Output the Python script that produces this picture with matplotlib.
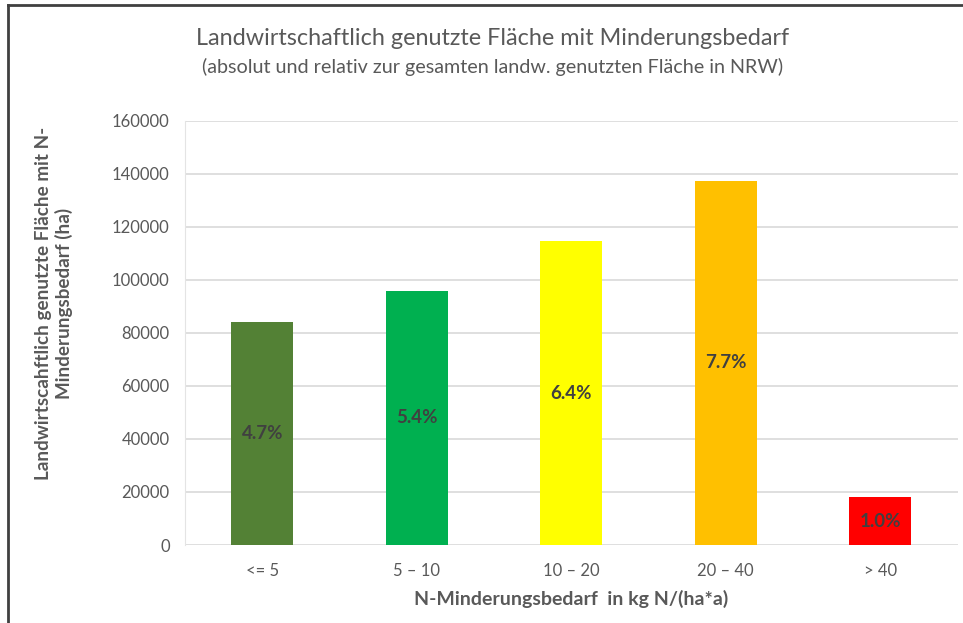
import matplotlib
matplotlib.use("Agg")
import matplotlib.pyplot as plt
from matplotlib.lines import Line2D

categories = ["<= 5", "5 \u2013 10", "10 \u2013 20", "20 \u2013 40", "> 40"]
area_ha = [84000, 96000, 114700, 137400, 18100]
share_labels = ["4.7%", "5.4%", "6.4%", "7.7%", "1.0%"]
bar_colors = ["#538135", "#00B050", "#FFFF00", "#FFC000", "#FF0000"]
y_ticks = [0, 20000, 40000, 60000, 80000, 100000, 120000, 140000, 160000]

plt.rcParams["font.family"] = ["Lato", "DejaVu Sans"]

fig = plt.figure(figsize=(9.63, 6.23), dpi=100)
ax = fig.add_axes([0.1921, 0.1252, 0.8022, 0.6806])

x = list(range(len(categories)))
bars = ax.bar(x, area_ha, width=0.4, color=bar_colors, zorder=3)

for xi, v, lab in zip(x, area_ha, share_labels):
    ax.text(xi, v / 2, lab, ha="center", va="center", fontsize=13.5,
            fontweight="bold", color="#404040", zorder=4)

ax.set_xlim(-0.5, len(categories) - 0.5)
ax.set_ylim(0, 160000)
ax.set_yticks(y_ticks)
ax.set_yticklabels([str(t) for t in y_ticks])
ax.set_xticks(x)
ax.set_xticklabels(categories)
ax.tick_params(axis="both", length=0, labelsize=12, colors="#595959")
ax.tick_params(axis="y", pad=11)
ax.tick_params(axis="x", pad=13)

ax.grid(axis="y", color="#D9D9D9", linewidth=1.2, zorder=0)
for s in ["top", "right", "bottom"]:
    ax.spines[s].set_visible(False)
ax.spines["left"].set_color("#E4E4E4")
ax.spines["left"].set_linewidth(0.8)

ax.set_xlabel("N-Minderungsbedarf  in kg N/(ha*a)", fontsize=14,
              fontweight="bold", color="#595959", labelpad=8)
fig.text(0.056, 0.513, "Landwirtscahftlich genutzte Fl\u00e4che mit N-\nMinderungsbedarf (ha)",
         rotation=90, ha="center", va="center", fontsize=13.6, fontweight="bold",
         color="#595959", linespacing=1.2)

fig.text(0.512, 0.939, "Landwirtschaftlich genutzte Fl\u00e4che mit Minderungsbedarf",
         ha="center", va="center", fontsize=16.8, color="#595959")
fig.text(0.512, 0.892, "(absolut und relativ zur gesamten landw. genutzten Fl\u00e4che in NRW)",
         ha="center", va="center", fontsize=14.2, color="#595959")

# outer frame (top and left edge)
fig.add_artist(Line2D([0.0083, 1.0], [0.992, 0.992], transform=fig.transFigure,
                      color="#404040", linewidth=2))
fig.add_artist(Line2D([0.0083, 0.0083], [0.0, 0.992], transform=fig.transFigure,
                      color="#404040", linewidth=2))

fig.savefig("out.png", dpi=100)
